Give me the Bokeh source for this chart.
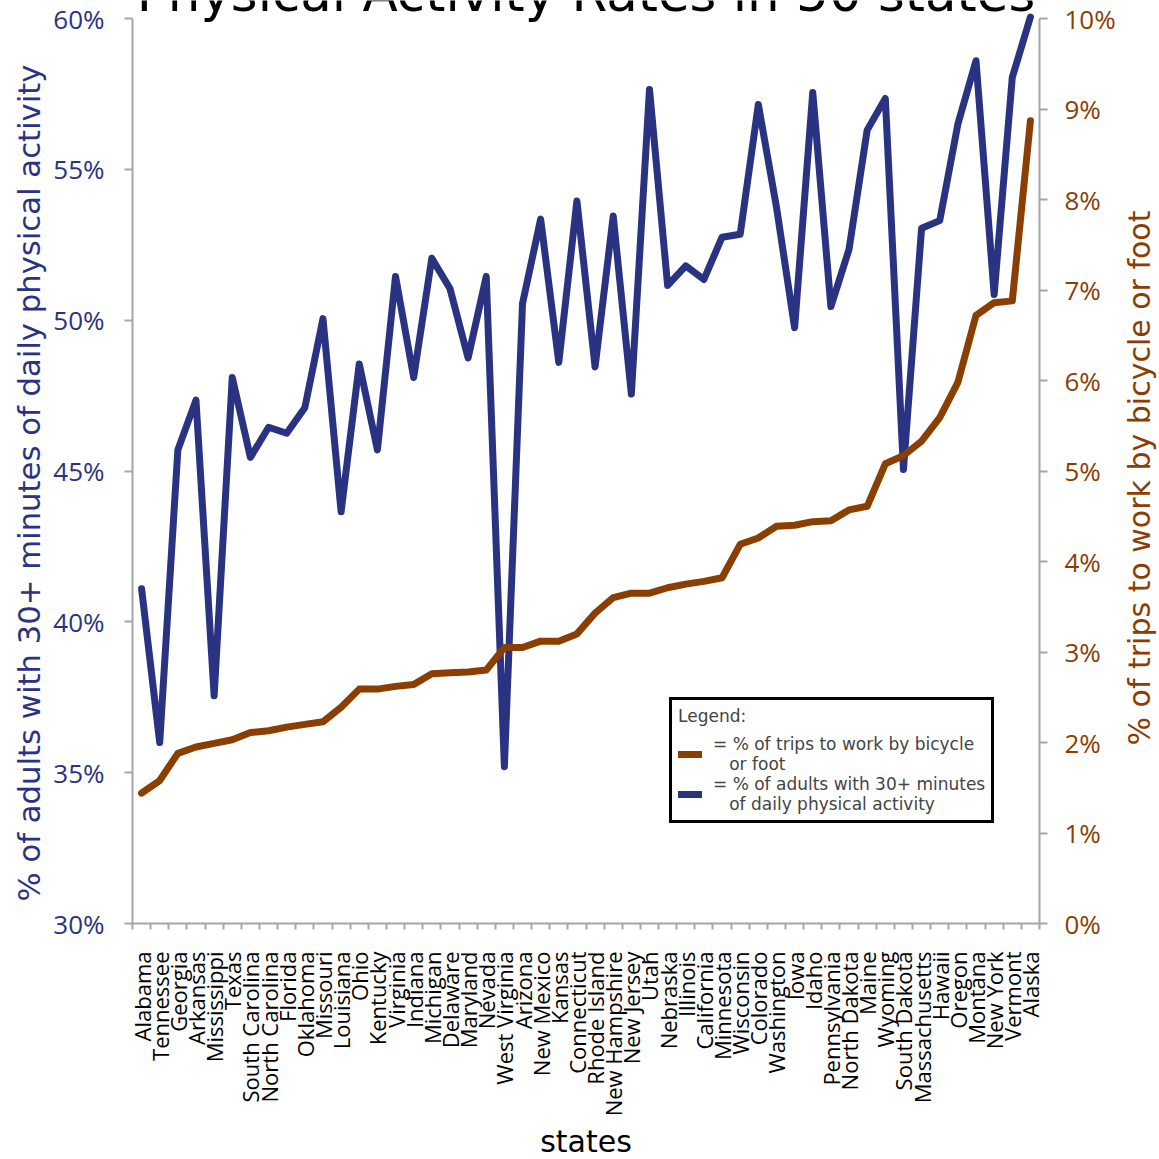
import math
from bokeh.plotting import figure
from bokeh.layouts import row
from bokeh.models import (Range1d, LinearAxis, FixedTicker, Legend, LegendItem,
                          Label, PrintfTickFormatter)
from bokeh.embed import file_html
from bokeh.resources import INLINE

# ---------------- data ----------------
states = ["Alabama", "Tennessee", "Georgia", "Arkansas", "Mississippi", "Texas",
          "South Carolina", "North Carolina", "Florida", "Oklahoma", "Missouri",
          "Louisiana", "Ohio", "Kentucky", "Virginia", "Indiana", "Michigan",
          "Delaware", "Maryland", "Nevada", "West Virginia", "Arizona", "New Mexico",
          "Kansas", "Connecticut", "Rhode Island", "New Hampshire", "New Jersey",
          "Utah", "Nebraska", "Illinois", "California", "Minnesota", "Wisconsin",
          "Colorado", "Washington", "Iowa", "Idaho", "Pennsylvania", "North Dakota",
          "Maine", "Wyoming", "South Dakota", "Massachusetts", "Hawaii", "Oregon",
          "Montana", "New York", "Vermont", "Alaska"]

# % of adults with 30+ minutes of daily physical activity (left axis)
activity = [41.1, 36.0, 45.7, 47.35, 37.55, 48.1, 45.45, 46.45, 46.25, 47.1,
            50.05, 43.65, 48.55, 45.7, 51.45, 48.1, 52.05, 51.05, 48.75, 51.45,
            35.2, 50.55, 53.35, 48.6, 53.95, 48.45, 53.45, 47.55, 57.65, 51.15,
            51.8, 51.35, 52.75, 52.85, 57.15, 53.75, 49.75, 57.55, 50.45, 52.35,
            56.3, 57.35, 45.05, 53.05, 53.3, 56.5, 58.6, 50.85, 58.05, 60.05]

# % of trips to work by bicycle or foot (right axis)
trips = [1.44, 1.58, 1.88, 1.95, 1.99, 2.03, 2.11, 2.13, 2.17, 2.20,
         2.23, 2.39, 2.59, 2.59, 2.62, 2.64, 2.76, 2.77, 2.78, 2.80,
         3.05, 3.05, 3.12, 3.12, 3.20, 3.43, 3.60, 3.65, 3.65, 3.71,
         3.75, 3.78, 3.82, 4.19, 4.26, 4.39, 4.40, 4.44, 4.45, 4.57,
         4.61, 5.08, 5.17, 5.33, 5.59, 5.98, 6.72, 6.86, 6.88, 8.87]

left_ticks = [30, 35, 40, 45, 50, 55, 60]
right_ticks = [0, 1, 2, 3, 4, 5, 6, 7, 8, 9, 10]

title_text = "Physical Activity Rates in 50 states"
left_label = "% of adults with 30+ minutes of daily physical activity"
right_label = "% of trips to work by bicycle or foot"
x_label = "states"
legend_title = "Legend:"
legend_labels = ["= % of trips to work by bicycle\n   or foot",
                 "= % of adults with 30+ minutes\n   of daily physical activity"]

# ---------------- styling / layout constants ----------------
BLUE = "#2a3382"
BROWN = "#8b3e02"
AXIS_GRAY = "#a6a6a6"
FONT = "DejaVu Sans"
TICK_FONT = "Open Sans"

PLOT_H = 905          # pixels between 30% and 60%
HEADROOM = 18         # pixels above the 60% line (title area)
BOTTOM = 235
n = len(states)
xs = list(range(n))

lo, hi = left_ticks[0], left_ticks[-1]
y_top = hi + (hi - lo) * HEADROOM / PLOT_H
r_top = right_ticks[-1] + (right_ticks[-1] - right_ticks[0]) * HEADROOM / PLOT_H
px = (hi - lo) / PLOT_H   # data units per pixel

# ---------------- main chart ----------------
p = figure(frame_width=907, frame_height=PLOT_H + HEADROOM,
           x_range=Range1d(-0.5, n - 0.5), y_range=Range1d(lo, y_top),
           output_backend="svg", toolbar_location=None,
           min_border_left=81, min_border_right=80, min_border_top=0,
           min_border_bottom=BOTTOM)
p.extra_y_ranges = {"trips": Range1d(right_ticks[0], r_top)}
p.grid.visible = False
p.outline_line_color = None
p.background_fill_color = "white"
p.border_fill_color = "white"

blue_r = p.line(xs, activity, line_color=BLUE, line_width=7,
                line_join="round", line_cap="round")
brown_r = p.line(xs, trips, y_range_name="trips", line_color=BROWN, line_width=7,
                 line_join="round", line_cap="round")

# x axis
xa = p.xaxis[0]
xa.ticker = FixedTicker(ticks=xs, minor_ticks=[i - 0.5 for i in range(n + 1)])
xa.major_label_overrides = {i: s for i, s in enumerate(states)}
xa.major_label_orientation = math.pi / 2
xa.major_tick_out = 0
xa.major_tick_in = 0
xa.minor_tick_out = 6
xa.minor_tick_in = 0
xa.minor_tick_line_color = AXIS_GRAY
xa.minor_tick_line_width = 2
xa.axis_line_color = AXIS_GRAY
xa.axis_line_width = 2
xa.major_label_text_font = TICK_FONT
xa.major_label_text_font_size = "22px"
xa.major_label_text_color = "black"
xa.major_label_standoff = 22
xa.axis_label = x_label
xa.axis_label_text_font = FONT
xa.axis_label_text_font_size = "30px"
xa.axis_label_text_font_style = "normal"
xa.axis_label_text_color = "black"
xa.axis_label_standoff = 5

# left axis
ya = p.yaxis[0]
ya.ticker = FixedTicker(ticks=left_ticks)
ya.bounds = (lo, hi)
ya.formatter = PrintfTickFormatter(format="%d%%")
ya.major_tick_out = 8
ya.major_tick_in = 0
ya.minor_tick_line_color = None
ya.major_tick_line_color = AXIS_GRAY
ya.major_tick_line_width = 2
ya.axis_line_color = AXIS_GRAY
ya.axis_line_width = 2
ya.major_label_text_font = TICK_FONT
ya.major_label_text_font_size = "26px"
ya.major_label_text_color = BLUE
ya.major_label_standoff = 20

# right axis
ra = LinearAxis(y_range_name="trips", ticker=FixedTicker(ticks=right_ticks),
                formatter=PrintfTickFormatter(format="%d%%"),
                bounds=(right_ticks[0], right_ticks[-1]))
ra.major_tick_out = 8
ra.major_tick_in = 0
ra.minor_tick_line_color = None
ra.major_tick_line_color = AXIS_GRAY
ra.major_tick_line_width = 2
ra.axis_line_color = AXIS_GRAY
ra.axis_line_width = 2
ra.major_label_text_font = TICK_FONT
ra.major_label_text_font_size = "26px"
ra.major_label_text_color = BROWN
ra.major_label_standoff = 17
p.add_layout(ra, "right")

# chart title (cut off at the top, as in the original)
p.add_layout(Label(x=(n - 1) / 2, y=hi + 25.6 * px, text=title_text,
                   text_align="center", text_baseline="middle",
                   text_font=FONT, text_font_size="51.5px", text_color="black"))

# legend
legend = Legend(items=[LegendItem(label=legend_labels[0], renderers=[brown_r]),
                       LegendItem(label=legend_labels[1], renderers=[blue_r])],
                title=legend_title, location=(537, 100))
legend.border_line_color = "black"
legend.border_line_alpha = 1
legend.border_line_width = 3
legend.background_fill_color = "white"
legend.background_fill_alpha = 1
legend.title_text_font = FONT
legend.title_text_font_size = "17px"
legend.title_text_font_style = "normal"
legend.label_text_font = FONT
legend.label_text_font_size = "17px"
legend.label_text_line_height = 1.25
legend.glyph_width = 24
legend.glyph_height = 12
legend.label_standoff = 11
legend.spacing = 0
legend.padding = 6
legend.margin = 0
legend.title_standoff = 8
p.add_layout(legend, "center")


def strip(width):
    f = figure(output_backend="svg", toolbar_location=None,
               x_axis_location=None, y_axis_location=None,
               frame_width=width, frame_height=PLOT_H + HEADROOM,
               x_range=Range1d(0, width), y_range=p.y_range,
               min_border_left=0, min_border_right=0, min_border_top=0,
               min_border_bottom=BOTTOM)
    f.grid.visible = False
    f.outline_line_color = None
    f.background_fill_color = "white"
    f.border_fill_color = "white"
    return f


# left strip: title of the left axis (reads bottom-to-top)
pl = strip(50)
pl.add_layout(Label(x=29, y=y_top - 482.5 * px, text=left_label, angle=math.pi / 2,
                    text_align="center", text_baseline="middle",
                    text_font=FONT, text_font_size="30.7px", text_color=BLUE))

# right strip: title of the right axis (reads bottom-to-top)
pr = strip(40)
pr.add_layout(Label(x=20, y=y_top - 477.5 * px, text=right_label, angle=math.pi / 2,
                    text_align="center", text_baseline="middle",
                    text_font=FONT, text_font_size="30px", text_color=BROWN))

layout = row(pl, p, pr, spacing=0)

open("out.html", "w").write(file_html(layout, INLINE))
